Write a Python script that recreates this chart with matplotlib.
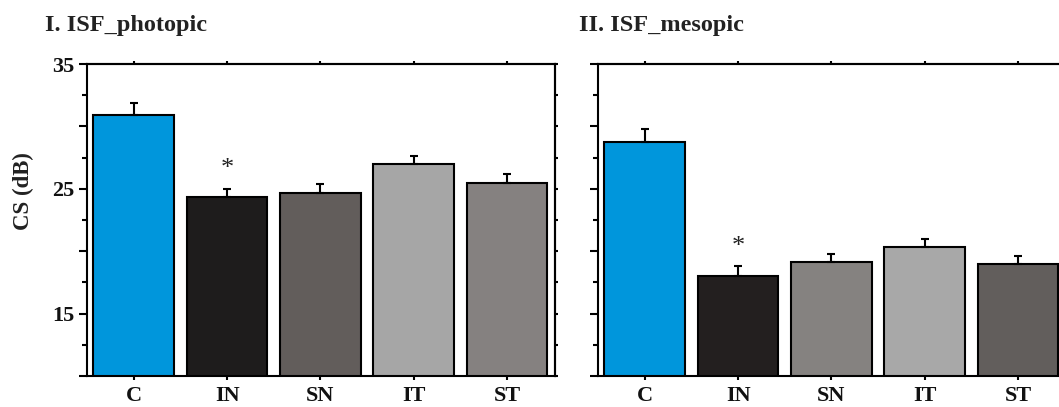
import matplotlib
matplotlib.use("Agg")
import matplotlib.pyplot as plt
from matplotlib.ticker import MultipleLocator, FuncFormatter

categories = ["C", "IN", "SN", "IT", "ST"]
photopic_mean = [30.95, 24.33, 24.7, 27.0, 25.5]
photopic_err = [0.9, 0.65, 0.7, 0.6, 0.7]
mesopic_mean = [28.76, 18.0, 19.1, 20.3, 19.0]
mesopic_err = [1.05, 0.8, 0.7, 0.7, 0.65]
photopic_colors = ["#0096DC", "#1e1c1c", "#625d5b", "#a6a6a6", "#858180"]
mesopic_colors = ["#0096DC", "#231f1f", "#858280", "#a8a8a8", "#625e5c"]
titles = ["I. ISF_photopic", "II. ISF_mesopic"]
star_level = [26.55, 20.3]

plt.rcParams['font.family'] = ['Liberation Serif', 'DejaVu Serif']
plt.rcParams['font.weight'] = 'bold'

W, H = 1059, 407
fig = plt.figure(figsize=(W/100, H/100), dpi=100)

def px_axes(x0, x1, ytop, ybot):
    return [x0/W, 1 - ybot/H, (x1-x0)/W, (ybot-ytop)/H]

axes = [fig.add_axes(px_axes(86.7, 555, 64, 376)),
        fig.add_axes(px_axes(597.7, 1066, 64, 376))]

datasets = [(photopic_mean, photopic_err, photopic_colors),
            (mesopic_mean, mesopic_err, mesopic_colors)]

for i, (ax, (m, e, cols)) in enumerate(zip(axes, datasets)):
    x = list(range(len(categories)))
    ax.bar(x, m, width=0.865, color=cols, edgecolor='black', linewidth=1.5, zorder=2)
    ax.errorbar(x, m, yerr=[[0]*len(e), e], fmt='none', ecolor='black',
                elinewidth=1.5, capsize=2.6, capthick=1.5, zorder=3)
    ax.text(1, star_level[i], "*", ha='center', va='center', fontsize=19,
            fontweight='normal', color='#222222')
    ax.set_xlim(-0.505, 4.515)
    ax.set_ylim(10, 35)
    for s in ax.spines.values():
        s.set_linewidth(1.5)
    ax.set_xticks(x)
    ax.set_xticklabels(categories, fontsize=16, fontweight='bold', color='#111111')
    ax.yaxis.set_major_locator(MultipleLocator(5))
    ax.yaxis.set_minor_locator(MultipleLocator(2.5))
    ax.tick_params(axis='x', direction='out', length=3, width=1.5, pad=4.5,
                   bottom=True, top=False)
    ax.tick_params(axis='y', which='major', direction='out', length=6, width=1.5,
                   left=True, right=False, labelsize=16, pad=3, labelcolor='#111111')
    ax.tick_params(axis='y', which='minor', direction='out', length=3.3, width=1.5,
                   left=True, right=False)
    if i == 0:
        ax.yaxis.set_major_formatter(FuncFormatter(
            lambda v, p: "%d" % v if int(round(v)) in (15, 25, 35) else ""))
    else:
        ax.set_yticklabels([])
    sx = ax.secondary_xaxis('top')
    sx.set_xticks(x)
    sx.set_xticklabels([])
    sx.tick_params(direction='out', length=2.5, width=1.5)
    sx.spines['top'].set_linewidth(1.5)
    sy = ax.secondary_yaxis('right')
    sy.yaxis.set_major_locator(MultipleLocator(5))
    sy.yaxis.set_minor_locator(MultipleLocator(2.5))
    sy.set_yticklabels([])
    sy.tick_params(which='both', direction='out', length=2.5, width=1.5)
    sy.spines['right'].set_linewidth(1.5)

fig.text(45/W, 1 - 26/H, titles[0], fontsize=17.5, fontweight='bold', va='center', ha='left',
         color='#222222')
fig.text(579/W, 1 - 26/H, titles[1], fontsize=17.5, fontweight='bold', va='center', ha='left',
         color='#222222')
fig.text(23/W, 1 - 191/H, "CS (dB)", rotation=90, fontsize=16.5, fontweight='bold',
         va='center', ha='center', color='#222222')

fig.savefig("out.png", dpi=100)
